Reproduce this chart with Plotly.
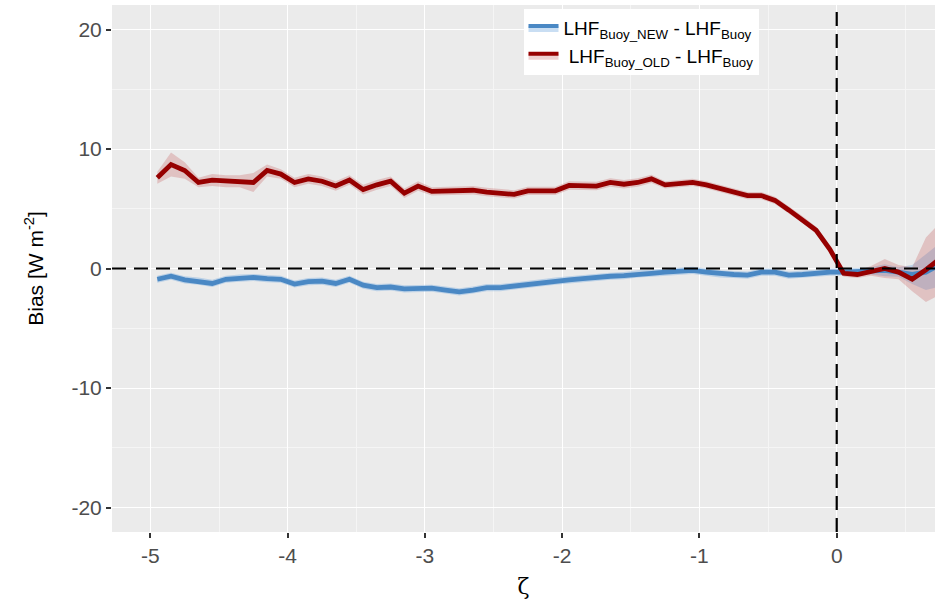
import plotly.graph_objects as go

zeta = [-4.95, -4.85, -4.75, -4.65, -4.55, -4.45, -4.35, -4.25, -4.15, -4.05,
        -3.95, -3.85, -3.75, -3.65, -3.55, -3.45, -3.35, -3.25, -3.15, -3.05,
        -2.95, -2.85, -2.75, -2.65, -2.55, -2.45, -2.35, -2.25, -2.15, -2.05,
        -1.95, -1.85, -1.75, -1.65, -1.55, -1.45, -1.35, -1.25, -1.15, -1.05,
        -0.95, -0.85, -0.75, -0.65, -0.55, -0.45, -0.35, -0.25, -0.15, -0.05,
        0.05, 0.15, 0.25, 0.35, 0.45, 0.55, 0.65, 0.75]

bias_old = [7.6, 8.7, 8.2, 7.2, 7.4, 7.3, 7.3, 7.2, 8.2, 7.9,
            7.2, 7.5, 7.3, 6.9, 7.4, 6.6, 7.0, 7.3, 6.3, 6.9,
            6.45, 6.5, 6.5, 6.55, 6.4, 6.3, 6.2, 6.5, 6.5, 6.5,
            6.95, 6.9, 6.9, 7.2, 7.05, 7.2, 7.5, 7.0, 7.1, 7.2,
            7.0, 6.7, 6.35, 6.1, 6.1, 5.7, 4.9, 4.1, 3.2, 1.6,
            -0.4, -0.5, -0.2, 0.0, -0.3, -0.9, -0.1, 0.8]
se_old = [0.5, 1.0, 0.7, 0.4, 0.5, 0.5, 0.5, 0.8, 0.5, 0.4,
          0.4, 0.4, 0.4, 0.4, 0.4, 0.4, 0.4, 0.4, 0.4, 0.4,
          0.35, 0.35, 0.35, 0.35, 0.35, 0.35, 0.35, 0.35, 0.35, 0.35,
          0.35, 0.35, 0.35, 0.35, 0.35, 0.35, 0.35, 0.3, 0.3, 0.3,
          0.3, 0.3, 0.3, 0.3, 0.3, 0.3, 0.3, 0.3, 0.3, 0.3,
          0.3, 0.3, 0.4, 0.8, 0.6, 1.0, 2.7, 3.0]

bias_new = [-0.9, -0.65, -0.95, -1.05, -1.25, -0.9, -0.8, -0.75, -0.85, -0.9,
            -1.3, -1.1, -1.05, -1.25, -0.9, -1.4, -1.6, -1.55, -1.7, -1.7,
            -1.65, -1.8, -1.95, -1.8, -1.6, -1.6, -1.45, -1.35, -1.2, -1.05,
            -0.95, -0.85, -0.7, -0.65, -0.6, -0.45, -0.4, -0.3, -0.2, -0.15,
            -0.3, -0.45, -0.5, -0.55, -0.3, -0.3, -0.55, -0.5, -0.4, -0.3,
            -0.3, -0.25, -0.2, -0.15, -0.3, -0.5, -0.3, 0.3]
se_new = [0.3, 0.3, 0.3, 0.3, 0.3, 0.3, 0.3, 0.3, 0.3, 0.3,
          0.3, 0.3, 0.3, 0.3, 0.3, 0.3, 0.3, 0.3, 0.3, 0.3,
          0.3, 0.3, 0.3, 0.3, 0.3, 0.3, 0.3, 0.3, 0.3, 0.3,
          0.3, 0.3, 0.3, 0.3, 0.3, 0.3, 0.3, 0.3, 0.3, 0.3,
          0.3, 0.3, 0.3, 0.3, 0.3, 0.3, 0.3, 0.3, 0.3, 0.3,
          0.3, 0.3, 0.3, 0.5, 0.4, 0.8, 1.5, 1.8]

y_ticks = [-20, -10, 0, 10, 20]
x_ticks = [-5, -4, -3, -2, -1, 0]

label_new = "LHF<sub>Buoy_NEW</sub> - LHF<sub>Buoy</sub>"
label_old = " LHF<sub>Buoy_OLD</sub> - LHF<sub>Buoy</sub>"

series = [
    (bias_new, se_new, "#4A88C4", "rgba(100,160,220,0.35)", label_new),
    (bias_old, se_old, "#960000", "rgba(200,100,100,0.30)", label_old),
]

fig = go.Figure()
for vals, se, lc, fc, name in series:
    lo = [v - s for v, s in zip(vals, se)]
    hi = [v + s for v, s in zip(vals, se)]
    fig.add_trace(go.Scatter(x=zeta, y=lo, mode="lines", line=dict(width=0),
                             showlegend=False, hoverinfo="skip"))
    fig.add_trace(go.Scatter(x=zeta, y=hi, mode="lines", line=dict(width=0),
                             fill="tonexty", fillcolor=fc, showlegend=False,
                             hoverinfo="skip"))

for vals, se, lc, fc, name in series:
    fig.add_trace(go.Scatter(x=zeta, y=vals, mode="lines",
                             line=dict(color=lc, width=4.8), showlegend=False))

for vals, se, lc, fc, name in series:
    fig.add_trace(go.Scatter(x=[None], y=[None], mode="lines", name=name,
                             line=dict(color=lc, width=4), fill="toself",
                             fillcolor=fc))

fig.add_shape(type="line", xref="paper", yref="y", x0=0, x1=1, y0=0, y1=0,
              line=dict(color="black", width=2.2, dash="14px,8px"), layer="above")
fig.add_shape(type="line", xref="x", yref="paper", x0=0, x1=0, y0=0, y1=1,
              line=dict(color="black", width=2.2, dash="14px,8px"), layer="above")

font_family = "Liberation Sans, Arial, sans-serif"

fig.update_layout(
    width=935, height=602,
    margin=dict(l=112, r=0, t=5, b=70),
    paper_bgcolor="white",
    plot_bgcolor="#EBEBEB",
    font=dict(family=font_family, size=20, color="black"),
    showlegend=True,
    legend=dict(x=0.5, y=0.992, xanchor="left", yanchor="top",
                bgcolor="white", font=dict(size=19, color="black"),
                traceorder="normal", tracegroupgap=0, itemwidth=30),
    xaxis=dict(range=[-5.28, 0.716], tickvals=x_ticks, ticktext=[str(v) for v in x_ticks],
               showgrid=True, gridcolor="white", gridwidth=1.3,
               minor=dict(dtick=0.5, tick0=0, showgrid=True, gridcolor="#F5F5F5", gridwidth=0.6),
               zeroline=False, ticks="outside", ticklen=5, tickcolor="#333333", tickwidth=1.5,
               tickfont=dict(size=21, color="#4D4D4D"),
               title=dict(text="ζ", font=dict(size=22, family="DejaVu Serif, serif"), standoff=12)),
    yaxis=dict(range=[-22.05, 22.05], tickvals=y_ticks, ticktext=[str(v) for v in y_ticks],
               showgrid=True, gridcolor="white", gridwidth=1.3,
               minor=dict(dtick=5, tick0=0, showgrid=True, gridcolor="#F5F5F5", gridwidth=0.6),
               zeroline=False, ticks="outside", ticklen=5, tickcolor="#333333", tickwidth=1.5,
               tickfont=dict(size=21, color="#4D4D4D"),
               title=dict(text="Bias [W m<sup>-2</sup>]", font=dict(size=21), standoff=22)),
)

fig.write_html("out.html")
